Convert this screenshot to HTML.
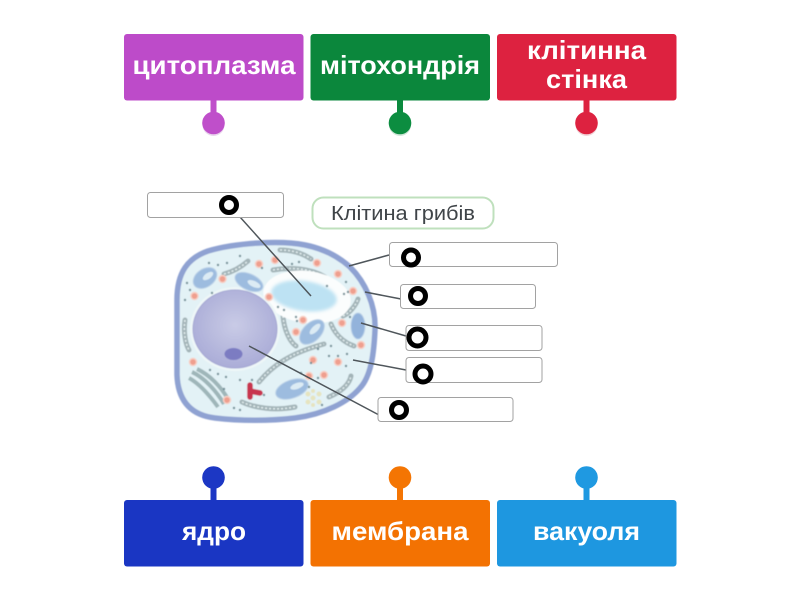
<!DOCTYPE html>
<html><head><meta charset="utf-8"><style>
html,body{margin:0;padding:0;background:#fff;width:800px;height:600px;overflow:hidden}
svg{display:block}
.t{font-family:"Liberation Sans","DejaVu Sans",sans-serif;font-weight:700;font-size:26px;fill:#fff;text-anchor:middle}
.b{fill:#fff;stroke:#a2a2a2;stroke-width:1}
.r{fill:none;stroke:#000;stroke-width:5}
.l{stroke:#4f565b;stroke-width:1.500;fill:none}
.er{fill:none;stroke:#a3b4b8;stroke-width:5;stroke-linecap:round}
.er2{fill:none;stroke:#e4eff0;stroke-width:1.500;stroke-dasharray:2 2}
</style></head><body>
<svg width="800" height="600" viewBox="0 0 800 600" xmlns="http://www.w3.org/2000/svg">
<defs>
<filter id="s" x="-5%" y="-5%" width="110%" height="110%"><feGaussianBlur stdDeviation="0.6"/></filter>
<filter id="v" x="-20%" y="-30%" width="140%" height="160%"><feGaussianBlur stdDeviation="1.500"/></filter>
<radialGradient id="nuc" cx="50%" cy="45%" r="60%"><stop offset="0" stop-color="#c9cbe6"/><stop offset="1" stop-color="#a8aad6"/></radialGradient>
</defs>

<!-- top tiles -->
<g>
<rect x="210.500" y="96" width="6" height="20" fill="#bf4fca"/>
<ellipse cx="213.500" cy="125" rx="11" ry="11" fill="#e8d4ec"/>
<circle cx="213.500" cy="123" r="11.300" fill="#bf4fca"/>
<rect x="124" y="34" width="179.500" height="66.500" rx="3" fill="#bd4bc9"/>
<text class="t" x="214" y="74" textLength="163" lengthAdjust="spacingAndGlyphs">цитоплазма</text>

<rect x="397" y="96" width="6" height="20" fill="#0b8a3e"/>
<ellipse cx="400" cy="125" rx="11" ry="11" fill="#cfe6d8"/>
<circle cx="400" cy="123" r="11.300" fill="#0c8d40"/>
<rect x="310.500" y="34" width="179.500" height="66.500" rx="3" fill="#0b873c"/>
<text class="t" x="400" y="74" textLength="160" lengthAdjust="spacingAndGlyphs">мітохондрія</text>

<rect x="583.500" y="96" width="6" height="20" fill="#dd2240"/>
<ellipse cx="586.500" cy="125" rx="11" ry="11" fill="#f1d3d8"/>
<circle cx="586.500" cy="123" r="11.300" fill="#dd2240"/>
<rect x="497" y="34" width="179.500" height="66.500" rx="3" fill="#dd2240"/>
<text class="t" x="586.500" y="59" textLength="119" lengthAdjust="spacingAndGlyphs">клітинна</text>
<text class="t" x="586.500" y="88" textLength="81" lengthAdjust="spacingAndGlyphs">стінка</text>
</g>

<!-- bottom tiles -->
<g>
<rect x="210.500" y="484" width="6" height="20" fill="#1c37c4"/>
<circle cx="213.500" cy="477.500" r="11.300" fill="#1c37c4"/>
<rect x="124" y="500" width="179.500" height="66.500" rx="3" fill="#1a36c3"/>
<text class="t" x="214" y="540" textLength="64" lengthAdjust="spacingAndGlyphs">ядро</text>

<rect x="397" y="484" width="6" height="20" fill="#f47503"/>
<circle cx="400" cy="477.500" r="11.300" fill="#f47503"/>
<rect x="310.500" y="500" width="179.500" height="66.500" rx="3" fill="#f37202"/>
<text class="t" x="400" y="540" textLength="137" lengthAdjust="spacingAndGlyphs">мембрана</text>

<rect x="583.500" y="484" width="6" height="20" fill="#1f99e1"/>
<circle cx="586.500" cy="477.500" r="11.300" fill="#1f99e1"/>
<rect x="497" y="500" width="179.500" height="66.500" rx="3" fill="#1e97e0"/>
<text class="t" x="586.500" y="540" textLength="107" lengthAdjust="spacingAndGlyphs">вакуоля</text>
</g>

<!-- title pill -->
<rect x="312.500" y="197.500" width="181" height="31" rx="11" fill="#fff" stroke="#bfe0bd" stroke-width="2"/>
<text x="403" y="220" font-family="'Liberation Sans',sans-serif" font-size="20" fill="#3f4448" text-anchor="middle" textLength="144" lengthAdjust="spacingAndGlyphs">Клітина грибів</text>

<!-- cell -->
<g filter="url(#s)">
<path d="M177,300 C177,272 188,258 208,251 C235,243 280,240 305,245 C325,249 340,258 350,267 C365,282 376,305 375,330 C374,350 372,375 360,388 C348,402 325,414 295,418 C270,421 240,421 215,418 C190,415 178,400 177,375 Z" fill="#e3f2f6" stroke="#8fa2d2" stroke-width="5.500"/>

<!-- ER strands -->
<g>
<path d="M224,274 C232,272 240,268 248,261" class="er"/><path d="M224,274 C232,272 240,268 248,261" class="er2"/>
<path d="M280,250 C292,250 302,253 311,259" class="er"/><path d="M280,250 C292,250 302,253 311,259" class="er2"/>
<path d="M273,270 C290,267 310,268 325,277" class="er"/><path d="M273,270 C290,267 310,268 325,277" class="er2"/>
<path d="M343,316 C350,313 356,305 358,299" class="er"/><path d="M343,316 C350,313 356,305 358,299" class="er2"/>
<path d="M283,316 C284,330 290,342 296,346" class="er"/><path d="M283,316 C284,330 290,342 296,346" class="er2"/>
<path d="M331,324 C335,334 343,342 354,346" class="er"/><path d="M331,324 C335,334 343,342 354,346" class="er2"/>
<path d="M259,382 C272,366 290,353 324,344" class="er"/><path d="M259,382 C272,366 290,353 324,344" class="er2"/>
<path d="M185,320 C183,333 186,345 189,350" class="er"/><path d="M185,320 C183,333 186,345 189,350" class="er2"/>
<path d="M329,397 C338,393 349,386 351,376" class="er"/><path d="M329,397 C338,393 349,386 351,376" class="er2"/>
<path d="M242,402 C255,408 275,411 295,407" class="er"/><path d="M242,402 C255,408 275,411 295,407" class="er2"/>
<!-- golgi -->
<path d="M192,372 C205,378 217,392 224,404" fill="none" stroke="#9fb6b9" stroke-width="4"/>
<path d="M197,369 C210,375 221,387 228,399" fill="none" stroke="#9fb6b9" stroke-width="4"/>
<path d="M189,378 C200,384 210,396 218,407" fill="none" stroke="#9fb6b9" stroke-width="4"/>
</g>

<!-- vacuole -->
<ellipse cx="307" cy="297" rx="44" ry="26" fill="#fbfdfd" transform="rotate(8 307 297)"/>
<ellipse cx="304" cy="296" rx="33" ry="15" fill="#bde2f3" transform="rotate(8 304 296)" filter="url(#v)"/>

<!-- nucleus -->
<ellipse cx="235" cy="329" rx="45" ry="42" fill="#eef7f8"/>
<ellipse cx="235" cy="329" rx="42" ry="39" fill="url(#nuc)" stroke="#a5a7d3" stroke-width="1"/>
<ellipse cx="233.500" cy="354" rx="9" ry="6" fill="#7b7cc2"/>

<!-- mitochondria -->
<g fill="#9dbcdf" stroke="#bcd2e8" stroke-width="1">
<ellipse cx="205" cy="278" rx="13" ry="9" transform="rotate(-35 205 278)"/>
<ellipse cx="249" cy="282" rx="15" ry="8" transform="rotate(25 249 282)"/>
<ellipse cx="312" cy="332" rx="15" ry="9" transform="rotate(-45 312 332)"/>
<ellipse cx="358" cy="326" rx="7" ry="13" fill="#93b3db"/>
<ellipse cx="292" cy="389" rx="17" ry="9" transform="rotate(-20 292 389)"/>
</g>
<g fill="#dcebf4">
<ellipse cx="208" cy="276" rx="6" ry="3" transform="rotate(-35 208 276)"/>
<ellipse cx="254" cy="284" rx="7" ry="3" transform="rotate(25 254 284)"/>
<ellipse cx="315" cy="329" rx="7" ry="3" transform="rotate(-45 315 329)"/>
<ellipse cx="297" cy="386" rx="7" ry="3" transform="rotate(-20 297 386)"/>
</g>

<!-- orange dots -->
<g fill="#ef9f8e" stroke="#f7cfc4" stroke-width="1.500">
<circle cx="222.500" cy="279" r="3.500"/><circle cx="194.500" cy="296" r="3.500"/><circle cx="269" cy="297" r="3.500"/>
<circle cx="259" cy="264" r="3.500"/><circle cx="275" cy="260" r="3.500"/><circle cx="317" cy="263" r="3.500"/>
<circle cx="338" cy="274" r="3.500"/><circle cx="353" cy="291" r="3.500"/><circle cx="303" cy="320" r="3.500"/>
<circle cx="296" cy="332" r="3.500"/><circle cx="342" cy="323" r="3.500"/><circle cx="361" cy="345" r="3.500"/>
<circle cx="193" cy="362" r="3.500"/><circle cx="227" cy="400" r="3.500"/><circle cx="313" cy="360" r="3.500"/>
<circle cx="338" cy="362" r="3.500"/><circle cx="324" cy="375" r="3.500"/><circle cx="309" cy="376" r="3.500"/>
</g>

<!-- small dots -->
<g fill="#6f8c94">
<circle cx="209" cy="263" r="1.200"/><circle cx="218" cy="265" r="1.200"/><circle cx="227" cy="263" r="1.200"/><circle cx="187" cy="283" r="1.200"/>
<circle cx="190" cy="290" r="1.200"/><circle cx="185" cy="300" r="1.200"/><circle cx="212" cy="293" r="1.200"/><circle cx="240" cy="256" r="1.200"/>
<circle cx="262" cy="268" r="1.200"/><circle cx="292" cy="264" r="1.200"/><circle cx="299" cy="262" r="1.200"/><circle cx="327" cy="286" r="1.200"/>
<circle cx="346" cy="282" r="1.200"/><circle cx="348" cy="292" r="1.200"/><circle cx="344" cy="294" r="1.200"/><circle cx="278" cy="307" r="1.200"/>
<circle cx="284" cy="310" r="1.200"/><circle cx="297" cy="321" r="1.200"/><circle cx="296" cy="317" r="1.200"/><circle cx="350" cy="317" r="1.200"/>
<circle cx="331" cy="346" r="1.200"/><circle cx="347" cy="354" r="1.200"/><circle cx="318" cy="349" r="1.200"/><circle cx="329" cy="356" r="1.200"/>
<circle cx="338" cy="356" r="1.200"/><circle cx="311" cy="363" r="1.200"/><circle cx="318" cy="378" r="1.200"/><circle cx="301" cy="373" r="1.200"/>
<circle cx="218" cy="374" r="1.200"/><circle cx="226" cy="377" r="1.200"/><circle cx="224" cy="389" r="1.200"/><circle cx="210" cy="370" r="1.200"/>
<circle cx="240" cy="380" r="1.200"/><circle cx="252" cy="380" r="1.200"/><circle cx="240" cy="410" r="1.200"/><circle cx="234" cy="408" r="1.200"/>
<circle cx="264" cy="395" r="1.200"/><circle cx="309" cy="387" r="1.200"/><circle cx="322" cy="405" r="1.200"/><circle cx="346" cy="366" r="1.200"/>
</g>

<!-- red body / centrosome -->
<path d="M250,385 L250,397 M250,391 L260,393" fill="none" stroke="#c8364f" stroke-width="5.500" stroke-linecap="round" stroke-linejoin="round"/>
<g fill="#e6e4c0"><circle cx="313" cy="398" r="2.500"/><circle cx="319" cy="394" r="2.500"/><circle cx="319" cy="402" r="2.500"/><circle cx="308" cy="394" r="2.500"/><circle cx="308" cy="402" r="2.500"/><circle cx="313" cy="391" r="2"/><circle cx="313" cy="405" r="2"/></g>
</g>

<!-- leader lines -->
<g class="l">
<line x1="240" y1="217" x2="311" y2="296"/>
<line x1="349" y1="266" x2="389" y2="255"/>
<line x1="365" y1="292" x2="401" y2="299"/>
<line x1="361" y1="323" x2="406" y2="336"/>
<line x1="353" y1="360" x2="406" y2="370"/>
<line x1="249" y1="346" x2="379" y2="415"/>
</g>

<!-- label boxes -->
<rect class="b" x="147.500" y="192.500" width="136" height="25" rx="3"/>
<rect class="b" x="389.500" y="242.500" width="168" height="24" rx="3"/>
<rect class="b" x="400.500" y="284.500" width="135" height="24" rx="3"/>
<rect class="b" x="406" y="325.500" width="136" height="25" rx="3"/>
<rect class="b" x="406" y="357.500" width="136" height="25" rx="3"/>
<rect class="b" x="378" y="397.500" width="135" height="24" rx="3"/>

<!-- rings -->
<circle class="r" cx="229" cy="205" r="7.500"/>
<circle class="r" cx="411" cy="257.500" r="7.500"/>
<circle class="r" cx="418" cy="296" r="7.500"/>
<circle class="r" cx="417.500" cy="337.500" r="8.500"/>
<circle class="r" cx="423" cy="374" r="8"/>
<circle class="r" cx="399" cy="410" r="7.500"/>
</svg>
</body></html>
